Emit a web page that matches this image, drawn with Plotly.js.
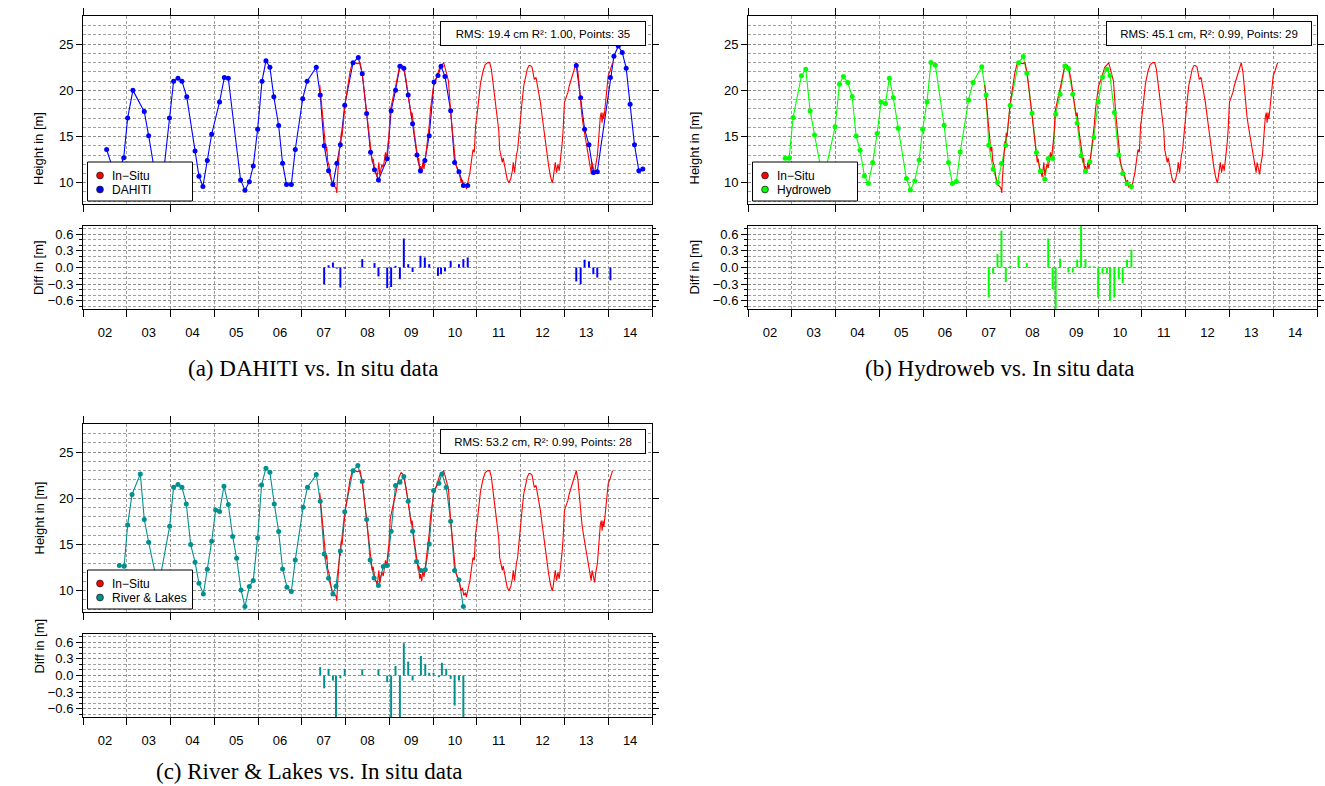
<!DOCTYPE html>
<html>
<head>
<meta charset="utf-8">
<script src="https://cdn.plot.ly/plotly-3.0.1.min.js"></script>
<style>html,body{margin:0;padding:0;background:#fff;}#chart{width:1325px;height:786px;}</style>
</head>
<body>
<div id="chart"></div>
<script>
// ---------------- DATA ----------------
const yearLabels = ['02','03','04','05','06','07','08','09','10','11','12','13','14'];

// In-situ gauge series (decimal year, height m)
const insituYear = [2007.41,2007.45,2007.50,2007.53,2007.55,2007.57,2007.59,2007.62,2007.64,2007.67,2007.70,2007.74,2007.77,2007.79,2007.80,2007.81,2007.83,2007.85,2007.87,2007.88,2007.90,2007.92,2007.94,2007.97,2008.00,2008.05,2008.10,2008.15,2008.20,2008.27,2008.33,2008.38,2008.45,2008.53,2008.57,2008.61,2008.63,2008.67,2008.70,2008.72,2008.76,2008.78,2008.80,2008.83,2008.86,2008.89,2008.91,2008.93,2008.96,2008.99,2009.02,2009.06,2009.10,2009.14,2009.18,2009.22,2009.27,2009.31,2009.34,2009.38,2009.42,2009.46,2009.50,2009.52,2009.54,2009.57,2009.61,2009.63,2009.66,2009.67,2009.69,2009.71,2009.74,2009.76,2009.79,2009.82,2009.85,2009.88,2009.91,2009.94,2009.98,2010.01,2010.06,2010.11,2010.15,2010.21,2010.24,2010.28,2010.32,2010.35,2010.40,2010.43,2010.47,2010.51,2010.55,2010.59,2010.61,2010.64,2010.67,2010.70,2010.74,2010.76,2010.79,2010.84,2010.87,2010.91,2010.94,2010.97,2011.00,2011.04,2011.08,2011.14,2011.19,2011.25,2011.29,2011.33,2011.37,2011.40,2011.42,2011.46,2011.50,2011.52,2011.55,2011.58,2011.60,2011.63,2011.65,2011.69,2011.73,2011.77,2011.81,2011.83,2011.86,2011.88,2011.90,2011.93,2011.97,2011.99,2012.03,2012.07,2012.11,2012.15,2012.19,2012.22,2012.26,2012.28,2012.31,2012.35,2012.39,2012.42,2012.45,2012.49,2012.51,2012.54,2012.57,2012.60,2012.64,2012.68,2012.72,2012.74,2012.77,2012.79,2012.82,2012.85,2012.88,2012.91,2012.95,2012.97,2013.00,2013.05,2013.08,2013.11,2013.15,2013.20,2013.24,2013.27,2013.31,2013.34,2013.37,2013.40,2013.43,2013.46,2013.49,2013.52,2013.55,2013.58,2013.61,2013.63,2013.66,2013.69,2013.71,2013.75,2013.77,2013.79,2013.82,2013.84,2013.86,2013.88,2013.90,2013.92,2013.94,2013.97,2014.00,2014.04,2014.07,2014.10];
const insituH = [20.6,18.6,15.9,14.2,13.4,13.9,12.4,11.9,11.2,10.4,9.8,9.6,9.5,9.2,8.9,10.2,12.0,12.5,14.5,13.8,15.4,15.0,16.5,17.6,18.9,20.5,22.0,22.9,23.0,22.9,23.0,21.8,18.7,15.8,13.3,12.2,12.6,11.2,11.0,10.6,12.2,10.8,11.3,12.0,11.6,12.9,13.3,12.5,13.6,15.1,17.8,18.9,19.6,20.4,21.6,22.3,22.8,22.6,22.1,21.2,19.8,18.7,17.2,17.6,16.2,15.3,14.0,12.9,12.2,12.7,11.3,11.8,11.0,12.2,11.5,12.5,13.6,14.7,16.2,18.0,19.2,20.5,21.1,21.8,22.5,22.8,23.0,22.3,21.4,21.0,17.6,16.2,13.6,12.2,11.5,11.1,10.7,10.0,10.3,9.5,9.8,9.3,10.0,11.1,12.2,13.6,13.3,16.2,17.2,19.0,20.7,22.1,22.8,23.0,23.0,22.3,20.9,19.4,18.7,17.2,15.6,13.6,12.9,12.2,12.7,11.8,11.1,10.4,10.0,10.4,11.3,12.2,11.1,12.2,12.9,13.6,15.8,17.2,18.7,20.5,21.6,22.3,22.7,22.7,22.5,22.1,21.2,21.4,20.3,19.8,18.7,17.2,16.5,15.1,14.0,12.9,11.8,10.7,10.0,10.4,11.5,12.2,11.1,12.0,11.3,12.5,14.4,15.8,18.7,19.4,19.8,20.5,21.2,21.9,22.7,23.0,21.9,20.1,19.0,17.2,16.2,15.4,14.4,13.6,12.9,11.8,11.1,12.2,11.3,10.9,11.8,12.9,14.0,15.4,17.2,17.6,16.5,17.6,16.9,17.8,19.0,20.5,21.6,22.1,22.7,23.0];

// DAHITI altimetry (null = gap in the series)
const dahitiYear = [2002.54,2002.75,2002.93,2003.02,2003.14,2003.40,2003.50,2003.68,2003.82,2003.975,2004.07,2004.17,2004.26,2004.37,2004.56,2004.65,2004.74,2004.84,2004.94,2005.12,2005.23,2005.32,2005.60,2005.70,2005.80,2005.89,2005.99,2006.09,2006.18,2006.27,2006.36,2006.47,2006.56,2006.65,2006.76,2006.85,2007.02,2007.12,2007.33,2007.42,2007.51,2007.61,2007.71,2007.80,2007.88,2007.98,2008.17,2008.29,2008.38,2008.48,2008.57,2008.66,2008.75,2008.95,2009.04,2009.14,2009.24,2009.33,2009.43,2009.53,2009.63,2009.71,2009.81,2009.91,2010.02,2010.11,2010.18,2010.27,2010.40,2010.49,2010.59,2010.69,2010.79,null,2013.27,2013.37,2013.46,2013.56,2013.66,2013.75,2014.05,2014.13,2014.23,2014.32,2014.41,2014.50,2014.60,2014.70,2014.79];
const dahitiH    = [13.6,10.5,12.7,17.0,20.0,17.7,15.1,10.0,10.2,17.0,21.0,21.3,21.0,19.3,13.45,10.7,9.6,12.4,15.25,18.75,21.4,21.3,10.3,9.2,10.1,11.8,15.8,21.0,23.2,22.5,19.3,16.2,12.1,9.8,9.8,13.6,19.1,21.0,22.5,19.5,14.0,11.3,9.8,12.1,14.1,18.4,23.0,23.56,21.8,17.5,13.3,11.4,10.3,12.6,17.8,20.0,22.6,22.4,19.5,16.4,13.0,11.3,12.4,15.1,20.9,21.6,22.6,21.5,17.8,12.2,11.2,9.7,9.7,null,22.7,19.2,15.8,14.1,11.1,11.2,21.4,23.7,24.8,24.1,22.4,18.5,14.1,11.3,11.5];
const dahitiDiffYear = [2007.51,2007.61,2007.71,2007.80,2007.88,2007.98,2008.38,2008.66,2008.75,2008.95,2009.04,2009.14,2009.24,2009.33,2009.43,2009.53,2009.71,2009.81,2009.91,2010.11,2010.18,2010.27,2010.40,2010.59,2010.69,2010.79,2013.27,2013.37,2013.46,2013.56,2013.66,2013.75,2014.05];
const dahitiDiff     = [-0.30,0.04,0.09,-0.02,-0.36,-0.02,0.15,0.08,-0.16,-0.37,-0.35,0.03,-0.21,0.52,0.06,-0.08,0.21,0.18,0.06,-0.15,-0.12,-0.07,0.12,0.06,0.15,0.18,-0.25,-0.30,0.14,0.11,-0.12,-0.18,-0.23];

// Hydroweb altimetry
const hydrowebYear = [2002.85,2002.94,2003.03,2003.22,2003.32,2003.42,2003.52,2003.72,2003.99,2004.09,2004.18,2004.28,2004.38,2004.47,2004.56,2004.66,2004.75,2004.85,2004.95,2005.04,2005.14,2005.23,2005.32,2005.43,2005.62,2005.71,2005.81,2005.91,2005.99,2006.09,2006.18,2006.28,2006.48,2006.58,2006.67,2006.76,2006.85,2007.04,2007.14,2007.34,2007.44,2007.50,2007.60,2007.70,2007.79,2007.89,2007.99,2008.18,2008.29,2008.37,2008.49,2008.59,2008.68,2008.78,2008.86,2008.96,2009.03,2009.13,2009.24,2009.32,2009.42,2009.52,2009.61,2009.71,2009.81,2009.90,2010.00,2010.10,2010.20,2010.27,2010.37,2010.47,2010.56,2010.66,2010.76];
const hydrowebH    = [12.65,12.65,17.06,21.57,22.29,17.78,15.18,10.2,16.05,20.67,21.5,20.85,19.33,15.07,13.52,10.74,9.91,12.18,15.32,18.75,18.57,21.32,19.22,15.9,10.45,9.22,10.2,12.47,15.79,18.75,23.01,22.73,16.23,12.18,9.91,10.13,13.34,18.97,20.85,22.55,19.51,14.06,11.46,10.02,12.08,14.06,18.4,23.0,23.66,21.86,17.53,13.27,11.28,10.38,12.62,12.62,17.42,19.58,22.65,22.36,19.58,16.44,12.91,11.28,12.26,14.9,18.75,21.46,22.29,21.6,17.6,13.0,11.0,9.9,9.6];
const hydrowebDiffYear = [2007.50,2007.60,2007.70,2007.79,2007.89,2007.99,2008.18,2008.37,2008.86,2008.96,2009.03,2009.13,2009.32,2009.42,2009.52,2009.61,2009.71,2009.81,2009.90,2010.00,2010.10,2010.20,2010.27,2010.37,2010.47,2010.56,2010.66,2010.76];
const hydrowebDiff     = [-0.54,-0.11,0.24,0.66,-0.26,0.03,0.21,0.08,0.52,-0.39,-0.80,0.16,-0.09,-0.09,0.14,0.75,0.15,0.02,0.02,-0.54,-0.11,-0.11,-0.60,-0.54,-0.21,-0.28,0.14,0.32];

// River & Lakes altimetry
const riverLakesYear = [2002.83,2002.94,2003.02,2003.12,2003.31,2003.40,2003.50,2003.72,2003.98,2004.07,2004.17,2004.26,2004.36,2004.46,2004.56,2004.65,2004.75,2004.84,2004.94,2005.03,2005.12,2005.22,2005.32,2005.42,2005.51,2005.61,2005.70,2005.80,2005.89,2005.99,2006.08,2006.18,2006.27,2006.37,2006.47,2006.56,2006.66,2006.76,2006.85,2007.03,2007.13,2007.33,2007.42,2007.51,2007.61,2007.71,2007.78,2007.88,2007.98,2008.17,2008.28,2008.38,2008.48,2008.56,2008.65,2008.75,2008.86,2008.95,2009.04,2009.14,2009.24,2009.33,2009.43,2009.53,2009.62,2009.72,2009.82,2009.91,2010.01,2010.13,2010.20,2010.30,2010.40,2010.49,2010.59,2010.69];
const riverLakesH    = [12.73,12.65,17.13,20.42,22.65,17.71,15.25,10.3,16.99,21.21,21.5,21.21,19.4,15.0,13.09,10.81,9.66,12.33,15.36,18.75,18.57,21.32,19.33,15.87,13.52,10.09,8.29,10.45,11.1,15.72,21.46,23.27,22.83,19.4,16.41,12.36,10.38,9.91,13.34,19.04,21.21,22.58,19.69,13.99,11.35,9.66,10.49,14.3,18.55,23.0,23.56,21.82,17.71,13.34,11.39,10.56,12.62,12.73,16.44,21.39,21.75,22.36,19.69,16.44,13.16,12.18,12.26,15.07,20.85,21.64,22.65,21.21,17.53,12.18,11.17,8.29];
const riverLakesDiffYear = [2007.42,2007.51,2007.61,2007.71,2007.78,2007.88,2007.98,2008.38,2008.75,2008.95,2009.04,2009.14,2009.24,2009.33,2009.43,2009.53,2009.72,2009.82,2009.91,2010.01,2010.13,2010.20,2010.30,2010.40,2010.49,2010.59,2010.69];
const riverLakesDiff     = [0.15,-0.23,0.12,-0.09,-1.00,-0.05,0.12,0.11,0.11,-0.12,-1.00,0.17,-1.00,0.58,0.25,-0.09,0.35,0.21,0.05,0.05,-0.03,0.23,0.12,-0.06,-0.54,-0.09,-1.00];

const statsTexts = ['RMS: 19.4 cm R²: 1.00, Points: 35','RMS: 45.1 cm, R²: 0.99, Points: 29','RMS: 53.2 cm, R²: 0.99, Points: 28'];
const captions = ['(a) DAHITI vs. In situ data','(b) Hydroweb vs. In situ data','(c) River & Lakes vs. In situ data'];
const insituName = 'In\u2212Situ';
const seriesNames = ['DAHITI','Hydroweb','River & Lakes'];

// ---------------- STYLE / LAYOUT ----------------
const W = 1325, H = 786;
const px = v => v / W, py = v => 1 - v / H;
const sans = 'Liberation Sans, Arial, Helvetica, sans-serif';
const serif = 'Liberation Serif, Times New Roman, serif';
const gridColor = '#8a8a8a', gridDash = '3px,2px';
const colors = ['#0000FF', '#00FF00', '#009090'];
const redC = '#FF0000';

const allYears = []; for (let y = 2002; y <= 2015; y++) allYears.push(y);
const evenYears = allYears.filter(y => y % 2 === 0);
const midYears = yearLabels.map((_, i) => 2002.5 + i);
const xRange = [2002, 2015];

const panels = [
  {x0: 83, x1: 652, top: 16, diffTop: 226, legX: 87.5, legY: 162, statR: 646, statT: 21, titleX: 29, capX: 313, capY: 368, capAnchor: 'middle'},
  {x0: 748, x1: 1317, top: 16, diffTop: 226, legX: 752.5, legY: 162, statR: 1312, statT: 21, titleX: 694, capX: 1000, capY: 368, capAnchor: 'middle'},
  {x0: 83, x1: 652, top: 424, diffTop: 634, legX: 87.5, legY: 570, statR: 646, statT: 429, titleX: 29, capX: 309, capY: 786, capAnchor: 'bottom'}
];
const altYears = [dahitiYear, hydrowebYear, riverLakesYear];
const altH = [dahitiH, hydrowebH, riverLakesH];
const diffYears = [dahitiDiffYear, hydrowebDiffYear, riverLakesDiffYear];
const diffs = [dahitiDiff, hydrowebDiff, riverLakesDiff];

const tickFont = {family: sans, size: 13, color: '#000'};
const layout = {
  width: W, height: H, margin: {l: 0, r: 0, t: 0, b: 0},
  paper_bgcolor: '#fff', plot_bgcolor: '#fff',
  showlegend: false, annotations: [], shapes: [], barmode: 'overlay'
};
const data = [];

panels.forEach((p, i) => {
  const ux = 'x' + (2 * i + 1), uy = 'y' + (2 * i + 1);
  const dx = 'x' + (2 * i + 2), dy = 'y' + (2 * i + 2);
  const uxKey = i === 0 ? 'xaxis' : 'xaxis' + (2 * i + 1);
  const uyKey = i === 0 ? 'yaxis' : 'yaxis' + (2 * i + 1);
  const dxKey = 'xaxis' + (2 * i + 2), dyKey = 'yaxis' + (2 * i + 2);
  const xd = [px(p.x0), px(p.x1)];
  const upperDom = [py(p.top + 188), py(p.top)];
  const diffDom = [py(p.diffTop + 83), py(p.diffTop)];

  layout[uxKey] = {domain: xd, range: xRange, anchor: uy, showline: true, linecolor: '#000', linewidth: 1,
    mirror: 'ticks', ticks: 'outside', ticklen: 7, tickcolor: '#000', tickmode: 'array', tickvals: evenYears,
    showticklabels: false, showgrid: true, gridcolor: gridColor, griddash: gridDash, gridwidth: 0.8, zeroline: false,
    minor: {tickmode: 'array', tickvals: allYears, showgrid: true, gridcolor: gridColor, griddash: gridDash, gridwidth: 0.8, ticks: ''}};
  layout[uyKey] = {domain: upperDom, range: [7.7, 28.05], anchor: ux, showline: true, linecolor: '#000', linewidth: 1,
    mirror: 'ticks', ticks: 'outside', ticklen: 6, tickcolor: '#000', tickmode: 'array', tickvals: [10, 15, 20, 25],
    tickfont: tickFont, showgrid: true, gridcolor: gridColor, griddash: gridDash, gridwidth: 0.8, zeroline: false,
    minor: {tick0: 0, dtick: 1, showgrid: true, gridcolor: gridColor, griddash: gridDash, gridwidth: 0.8, ticks: ''}};
  layout[dxKey] = {domain: xd, range: xRange, anchor: dy, showline: true, linecolor: '#000', linewidth: 1,
    mirror: true, ticks: '', tickmode: 'array', tickvals: midYears, ticktext: yearLabels, tickfont: tickFont,
    ticklabelstandoff: 11, showgrid: false, zeroline: false,
    minor: {tickmode: 'array', tickvals: allYears, ticks: 'outside', ticklen: 7, tickcolor: '#000',
            showgrid: true, gridcolor: gridColor, griddash: gridDash, gridwidth: 0.8}};
  layout[dyKey] = {domain: diffDom, range: [-0.745, 0.745], anchor: dx, showline: true, linecolor: '#000', linewidth: 1,
    mirror: 'ticks', ticks: 'outside', ticklen: 6, tickcolor: '#000', tickmode: 'array', tickvals: [-0.6, -0.3, 0, 0.3, 0.6],
    tickformat: '.1f', tickfont: tickFont, showgrid: true, gridcolor: gridColor, griddash: gridDash, gridwidth: 0.8, zeroline: false,
    minor: {tick0: 0, dtick: 0.1, ticks: 'outside', ticklen: 3, tickcolor: '#000', showgrid: true, gridcolor: gridColor, griddash: gridDash, gridwidth: 0.8}};

  // altimetry line, in-situ line, altimetry markers
  data.push({type: 'scatter', mode: 'lines', x: altYears[i], y: altH[i], xaxis: ux, yaxis: uy,
    line: {color: colors[i], width: 1.1}, connectgaps: false, hoverinfo: 'skip', name: seriesNames[i]});
  data.push({type: 'scatter', mode: 'lines', x: insituYear, y: insituH, xaxis: ux, yaxis: uy,
    line: {color: redC, width: 1.1}, hoverinfo: 'skip', name: insituName});
  data.push({type: 'scatter', mode: 'markers', x: altYears[i], y: altH[i], xaxis: ux, yaxis: uy,
    marker: {color: colors[i], size: 5}, hoverinfo: 'skip', name: seriesNames[i]});
  // difference bars
  data.push({type: 'bar', x: diffYears[i], y: diffs[i], xaxis: dx, yaxis: dy, width: 0.045,
    marker: {color: colors[i], line: {width: 0}}, hoverinfo: 'skip', name: seriesNames[i] + ' diff'});

  // legend box (drawn on top of the curves, like the reference)
  const lx0 = p.legX, ly0 = p.legY, lw = 105, lh = 39;
  layout.shapes.push({type: 'rect', xref: 'paper', yref: 'paper', x0: px(lx0), x1: px(lx0 + lw), y0: py(ly0 + lh), y1: py(ly0),
    fillcolor: '#fff', line: {color: '#000', width: 1}, layer: 'above'});
  const legItems = [[insituName, redC], [seriesNames[i], colors[i]]];
  legItems.forEach(([name, col], k) => {
    const cy = ly0 + 13.5 + k * 14, cx = lx0 + 12.5, r = 3.4;
    layout.shapes.push({type: 'circle', xref: 'paper', yref: 'paper', x0: px(cx - r), x1: px(cx + r), y0: py(cy + r), y1: py(cy - r),
      fillcolor: col, line: {color: '#222', width: 0.8}, layer: 'above'});
    layout.annotations.push({xref: 'paper', yref: 'paper', x: px(lx0 + 22), y: py(cy), xanchor: 'left', yanchor: 'middle',
      text: name, showarrow: false, font: {family: sans, size: 12, color: '#000'}});
  });

  layout.annotations.push({xref: 'paper', yref: 'paper', x: px(p.statR), y: py(p.statT), xanchor: 'right', yanchor: 'top',
    text: statsTexts[i], showarrow: false, bgcolor: '#fff', bordercolor: '#000', borderwidth: 1, borderpad: 4,
    width: 196, height: 15, align: 'center', font: {family: sans, size: 11.5, color: '#000'}});
  layout.annotations.push({xref: 'paper', yref: 'paper', x: px(p.titleX), y: py(p.top + 94), textangle: -90,
    text: 'Height in [m]', showarrow: false, font: {family: sans, size: 13, color: '#000'}});
  layout.annotations.push({xref: 'paper', yref: 'paper', x: px(p.titleX), y: py(p.diffTop + 41.5), textangle: -90,
    text: 'Diff in [m]', showarrow: false, font: {family: sans, size: 13, color: '#000'}});
  layout.annotations.push({xref: 'paper', yref: 'paper', x: px(p.capX), y: py(p.capY), xanchor: 'center', yanchor: p.capAnchor,
    text: captions[i], showarrow: false, font: {family: serif, size: 23, color: '#000'}});
});

Plotly.newPlot('chart', data, layout, {staticPlot: true});
</script>
</body>
</html>
